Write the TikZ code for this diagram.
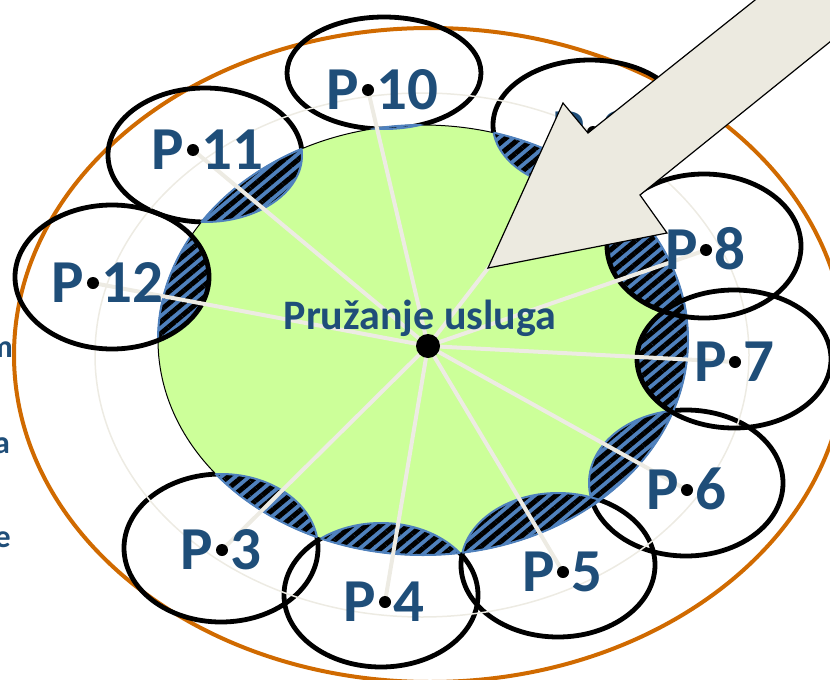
\documentclass[tikz,border=0pt]{standalone}
\usepackage{fontspec}
\setmainfont{Carlito}
\usetikzlibrary{patterns.meta}
\definecolor{txtblue}{HTML}{1F4E79}
\definecolor{hatchblue}{HTML}{4F81BD}
\definecolor{ringorange}{HTML}{D06A00}
\definecolor{hubgreen}{HTML}{CCFF99}
\definecolor{spokegray}{HTML}{EDEBE3}
\definecolor{arrowbeige}{HTML}{ECEAE0}
\newcommand{\plabel}[1]{\makebox[0pt][r]{P\hspace{.14em}}\makebox[0pt][l]{\hspace{.14em}#1}}
\tikzset{
  petal/.style={draw=black, line width=4.8pt},
  spoke/.style={draw=spokegray, line width=4pt},
  ptext/.style={font=\fontsize{61}{61}\selectfont\bfseries, text=txtblue, inner sep=0pt, anchor=base},
  sidetext/.style={font=\fontsize{32}{32}\selectfont\bfseries, text=txtblue, inner sep=0pt, anchor=base east},
}
\begin{document}
\begin{tikzpicture}[x=1pt,y=-1pt]
  \useasboundingbox (0,0) rectangle (830,680);
  % outer ring
  \draw[ringorange, line width=4pt] (430,355) ellipse [x radius=416pt, y radius=327pt];
  % petals below the hub
  \foreach \n/\cx/\cy/\ry in {10/384/73/56, 9/590/125/65, 11/205/155/67, 6/686/483/73, 5/558/565/72, 4/381/595/72, 3/221/548/74}
    \draw[petal] (\cx,\cy) ellipse [x radius=97pt, y radius=\ry pt];
  \draw[spokegray, line width=1.5pt] (422,355) ellipse [x radius=327pt, y radius=262pt];
  % hub
  \filldraw[black, fill=hubgreen, line width=1pt] (423,340) ellipse [x radius=265pt, y radius=215pt];
  % hatched overlaps
  \foreach \n/\cx/\cy/\ry in {10/384/73/56, 9/590/125/65, 11/205/155/67, 12/112/277/72, 8/704/246/72, 7/734/359/69, 6/686/483/73, 5/558/565/72, 4/381/595/72, 3/221/548/74} {
    \begin{scope}
      \clip (423,340) ellipse [x radius=265pt, y radius=215pt];
      \fill[hatchblue] (\cx,\cy) ellipse [x radius=97pt, y radius=\ry pt];
      \fill[pattern={Lines[angle=40,distance=9pt,line width=5pt]}, pattern color=black] (\cx,\cy) ellipse [x radius=97pt, y radius=\ry pt];
      \draw[hatchblue, line width=2pt] (\cx,\cy) ellipse [x radius=97pt, y radius=\ry pt];
    \end{scope}
    \begin{scope}
      \clip (\cx,\cy) ellipse [x radius=97pt, y radius=\ry pt];
      \draw[hatchblue, line width=2pt] (423,340) ellipse [x radius=265pt, y radius=215pt];
    \end{scope}
  }
  % petals above the hub
  \foreach \n/\cx/\cy/\ry in {12/112/277/72, 8/704/246/72, 7/734/359/69}
    \draw[petal] (\cx,\cy) ellipse [x radius=97pt, y radius=\ry pt];
  % spokes and labels
  \coordinate (hub) at (428,346);
  \foreach \n/\dx/\dy in {10/368/90, 9/593/132, 11/193/150, 12/93/283, 8/706/250, 7/735/362, 6/687/490, 5/563/572, 4/385/602, 3/222/550} {
    \coordinate (d\n) at (\dx,\dy);
    \draw[spoke] (hub) -- (d\n);
    \node[ptext] (p\n) at (\dx,{\dy+19}) {\plabel{\n}};
    \fill[black] (d\n) circle (6pt);
  }
  \node[font=\fontsize{42}{42}\selectfont\bfseries, text=txtblue, inner sep=0pt, anchor=base] (title) at (420,329) {Pružanje usluga};
  \fill[black] (hub) circle (12pt);
  % big arrow
  \filldraw[black, fill=arrowbeige, line width=1.2pt] (488,268) -- (563,103) -- (588,133) -- (838,-66) -- (872,8) -- (640,195) -- (667,233) -- cycle;
  % cut-off side text
  \node[sidetext] (sm) at (13,357) {m};
  \node[sidetext] (sa) at (10,453) {a};
  \node[sidetext] (se) at (11,547) {e};
\end{tikzpicture}
\end{document}
